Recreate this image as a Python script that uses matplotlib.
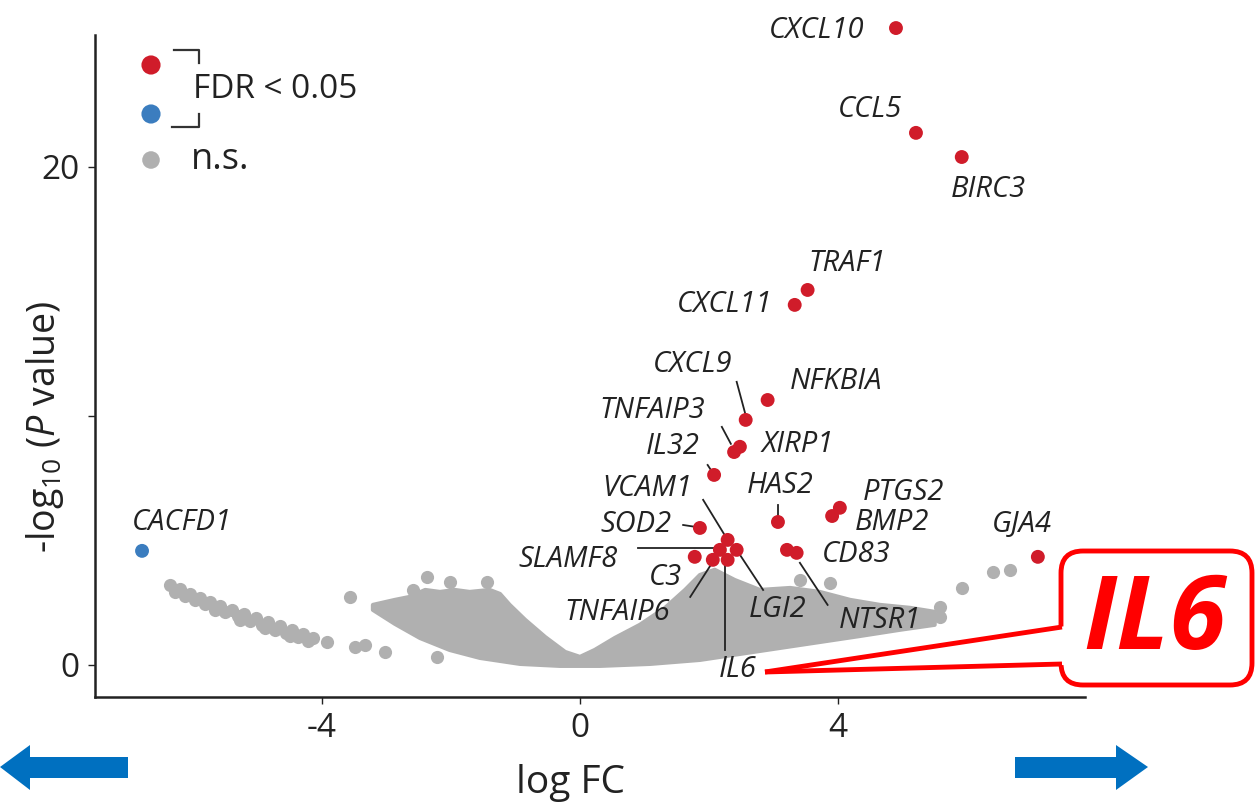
import matplotlib
matplotlib.use('Agg')
import matplotlib.pyplot as plt
from matplotlib.patches import FancyBboxPatch, Polygon

plt.rcParams['font.family'] = ['Open Sans', 'DejaVu Sans']
plt.rcParams['mathtext.fontset'] = 'custom'
plt.rcParams['mathtext.rm'] = 'Open Sans'
plt.rcParams['mathtext.it'] = 'Open Sans:italic'

# Genes passing FDR < 0.05 (last one is down-regulated)
genes = ['CXCL10', 'CCL5', 'BIRC3', 'TRAF1', 'CXCL11', 'NFKBIA', 'CXCL9',
         'XIRP1', 'TNFAIP3', 'IL32', 'VCAM1', 'HAS2', 'PTGS2', 'BMP2', 'SOD2',
         'SLAMF8', 'LGI2', 'C3', 'TNFAIP6', 'IL6', 'CD83', 'NTSR1', 'GJA4',
         'CACFD1']
logfc = [4.90, 5.21, 5.92, 3.53, 3.33, 2.91, 2.57, 2.48, 2.39, 2.08, 2.29,
         3.07, 4.03, 3.91, 1.86, 2.17, 2.43, 1.78, 2.06, 2.29, 3.21, 3.36,
         7.10, -6.79]
neglogp = [25.58, 21.37, 20.40, 15.06, 14.46, 10.64, 9.84, 8.76, 8.55, 7.63,
           5.02, 5.74, 6.31, 5.98, 5.50, 4.62, 4.62, 4.34, 4.22, 4.22, 4.62,
           4.50, 4.34, 4.58]

# Where each gene name sits (text centre)
label_x = [3.67, 4.50, 6.33, 4.14, 2.25, 3.97, 1.75, 3.38, 1.12, 1.44, 1.04,
           3.10, 5.01, 4.84, 0.87, -0.19, 3.07, 1.32, 0.57, 2.45, 4.28, 4.65,
           6.85, -6.17]
label_y = [25.50, 22.29, 19.08, 16.14, 14.46, 11.37, 12.05, 8.84, 10.20, 8.76,
           7.07, 7.19, 6.91, 5.70, 5.62, 4.22, 2.21, 3.53, 2.09, -0.20, 4.42,
           1.77, 5.62, 5.70]

# Connector segments from label to point
leaders = [
    ((2.43, 11.37), (2.56, 10.12)),   # CXCL9
    ((2.20, 9.56), (2.34, 8.88)),     # TNFAIP3
    ((1.98, 8.03), (2.06, 7.71)),     # IL32
    ((1.91, 6.63), (2.29, 5.02)),     # VCAM1
    ((2.43, 4.62), (2.84, 3.01)),     # LGI2
    ((1.60, 5.62), (1.80, 5.54)),     # SOD2
    ((0.90, 4.70), (2.17, 4.70)),     # SLAMF8
    ((3.07, 6.43), (3.07, 5.94)),     # HAS2
    ((1.71, 2.73), (2.06, 4.14)),     # TNFAIP6
    ((2.25, 0.60), (2.25, 4.14)),     # IL6
    ((3.41, 4.10), (3.84, 2.41)),     # NTSR1
]

# Non-significant genes: dense core outline plus scattered outliers
cloud_x = [-3.21, -2.87, -2.64, -2.40, -2.17, -1.94, -1.71, -1.40, -1.24,
           -1.09, -0.85, -0.54, -0.23, 0.00, 0.23, 0.54, 0.93, 1.32, 1.63,
           1.86, 2.09, 2.40, 2.79, 3.26, 3.72, 4.19, 4.65, 5.12, 5.50, 5.50,
           4.96, 4.34, 3.72, 3.10, 2.48, 1.86, 1.09, 0.31, -0.31, -0.93,
           -1.55, -2.02, -2.48, -2.87, -3.21]
cloud_y = [2.41, 2.61, 2.73, 3.01, 2.93, 3.01, 2.93, 3.01, 2.85, 2.41, 1.81,
           1.12, 0.52, 0.32, 0.60, 1.08, 1.61, 2.29, 3.01, 3.61, 3.82, 3.41,
           3.01, 3.09, 2.93, 2.61, 2.41, 2.29, 2.13, 1.61, 1.41, 1.16, 0.92,
           0.68, 0.44, 0.20, 0.04, -0.04, -0.04, 0.04, 0.28, 0.60, 1.08, 1.65,
           2.21]
ns_x = [-6.36, -6.20, -6.05, -5.89, -5.74, -5.58, -5.40, -5.21, -5.02, -4.84,
        -4.65, -4.47, -4.29, -4.14, -5.97, -5.66, -5.27, -4.88, -4.50, -3.92,
        -3.49, -3.02, -3.57, -2.59, -2.37, -2.02, -1.44, -2.22, -3.33, 3.41,
        3.88, 5.92, 6.40, 6.67, 5.58, 5.58,
        -6.28, -6.12, -5.81, -5.50, -5.30, -5.12, -4.93, -4.73, -4.56, -4.37,
        -4.22]
ns_y = [3.21, 3.05, 2.85, 2.69, 2.53, 2.37, 2.21, 2.05, 1.89, 1.73, 1.57, 1.41,
        1.24, 1.08, 2.61, 2.21, 1.81, 1.49, 1.16, 0.92, 0.72, 0.52, 2.73, 3.01,
        3.53, 3.33, 3.33, 0.32, 0.80, 3.41, 3.29, 3.09, 3.73, 3.82, 2.33, 1.93,
        2.93, 2.77, 2.45, 2.13, 1.97, 1.77, 1.61, 1.41, 1.29, 1.12, 0.96]

RED = '#D01C2A'
BLUE = '#3B7DBF'
GREY = '#B0B0B0'
ARROW = '#0070C0'
CALLOUT = '#FF0000'

fig = plt.figure(figsize=(12.56, 8.07), dpi=100)
ax = fig.add_axes([0.0756, 0.1363, 0.7882, 0.8203])

ax.fill(cloud_x, cloud_y, facecolor=GREY, edgecolor=GREY, lw=3,
        joinstyle='round', zorder=1)
ax.scatter(ns_x, ns_y, s=90, color=GREY, lw=0, zorder=1)

colors = [BLUE if fc < 0 else RED for fc in logfc]
ax.scatter(logfc, neglogp, s=100, c=colors, lw=0, zorder=3, clip_on=False)

for (x0, y0), (x1, y1) in leaders:
    ax.plot([x0, x1], [y0, y1], color='#222222', lw=1.3, zorder=2)

for g, lx, ly in zip(genes, label_x, label_y):
    ax.text(lx, ly, g, style='italic', fontsize=21, color='#222222',
            ha='center', va='center', zorder=4, clip_on=False)

ax.set_xlim(-7.52, 7.83)
ax.set_ylim(-1.29, 25.3)
ax.set_xticks([-4, 0, 4])
ax.set_xticklabels(['-4', '0', '4'])
ax.set_yticks([0, 10, 20])
ax.set_yticklabels(['0', '', '20'])
ax.tick_params(labelsize=24, length=5, width=1, colors='#222222', pad=6)
for side in ['top', 'right']:
    ax.spines[side].set_visible(False)
for side in ['left', 'bottom']:
    ax.spines[side].set_linewidth(1.8)
    ax.spines[side].set_color('#222222')

ax.set_xlabel('log FC', fontsize=28, color='#222222')
ax.xaxis.set_label_coords(0.48, -0.13)
ax.xaxis.label.set_va('center')
ax.set_ylabel(r'-log$_{10}$ ($P$ value)', fontsize=27, color='#222222')
ax.yaxis.set_label_coords(-0.0505, 0.408)
ax.yaxis.label.set_va('center')

# Overlay in pixel units for legend, arrows and callout
ov = fig.add_axes([0, 0, 1, 1])
ov.set_xlim(0, 1256)
ov.set_ylim(807, 0)
ov.axis('off')
ov.patch.set_alpha(0)

# legend
ov.scatter([151, 151, 151], [65, 114, 160], s=[190, 190, 160],
           c=[RED, BLUE, GREY], lw=0)
ov.plot([174, 199, 199], [50, 50, 63], color='#333333', lw=1.6)
ov.plot([172, 199, 199], [127, 127, 114], color='#333333', lw=1.6)
ov.text(193, 89, 'FDR < 0.05', fontsize=24, color='#222222', va='center')
ov.text(191, 160, 'n.s.', fontsize=26, color='#222222', va='center')

# direction arrows under the x axis
ov.add_patch(Polygon([(0, 767), (30, 745), (30, 757), (128, 757), (128, 778),
                      (30, 778), (30, 790)], closed=True, color=ARROW, lw=0))
ov.add_patch(Polygon([(1148, 767), (1116, 745), (1116, 757), (1015, 757),
                      (1015, 778), (1116, 778), (1116, 790)], closed=True,
                     color=ARROW, lw=0))

# IL6 callout
box = FancyBboxPatch((1061, 551), 191, 134,
                     boxstyle='round,pad=0,rounding_size=22',
                     facecolor='white', edgecolor=CALLOUT, lw=3.5)
ov.add_patch(box)
ov.add_patch(Polygon([(765, 672), (1066, 626), (1066, 665)], closed=True,
                     facecolor='white', edgecolor='none', lw=0))
ov.plot([765, 1062], [672, 627], color=CALLOUT, lw=3.5,
        solid_capstyle='butt')
ov.plot([765, 1062], [672, 664], color=CALLOUT, lw=3.5,
        solid_capstyle='butt')
ov.text(1155, 622, 'IL6', fontsize=74, fontweight='bold', style='italic',
        color=CALLOUT, ha='center', va='center')

fig.savefig('out.png', dpi=100)
